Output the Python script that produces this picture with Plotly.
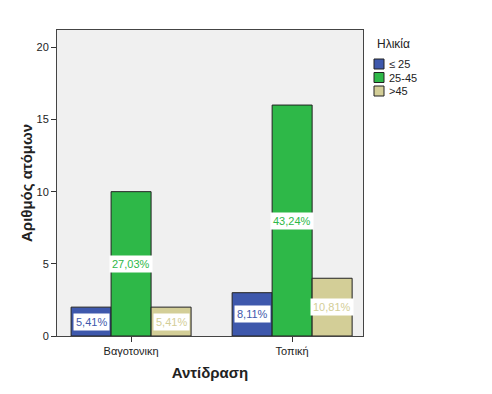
import plotly.graph_objects as go

categories = ["Βαγοτονικη", "Τοπική"]
series_names = ["≤ 25", "25-45", ">45"]
counts_le25 = [2, 3]
counts_25_45 = [10, 16]
counts_gt45 = [2, 4]
colors = ["#3E58AC", "#2EB848", "#D3CE97"]
y_ticks = [0, 5, 10, 15, 20]
legend_title = "Ηλικία"

series = [counts_le25, counts_25_45, counts_gt45]
total = sum(sum(s) for s in series)

FONT = "Liberation Sans, Arial, sans-serif"
W, H = 492, 394
L, R, T, B = 49, 137, 22, 66
PW, PH = W - L - R, H - T - B

def px_x(px):
    return (px - L) / PW

def px_y(py):
    return (H - B - py) / PH

bargap = 0.255
n = len(series)
w = (1 - bargap) / n
xs = list(range(len(categories)))

fig = go.Figure()
for name, vals, col in zip(series_names, series, colors):
    fig.add_trace(go.Bar(
        x=xs, y=vals, name=name, showlegend=False,
        marker=dict(color=col, line=dict(color="#222222", width=1)),
    ))

annotations = []
for k, (vals, col) in enumerate(zip(series, colors)):
    for i, v in enumerate(vals):
        pct = f"{v / total * 100:.2f}%".replace(".", ",")
        annotations.append(dict(
            x=i + (k - (n - 1) / 2) * w, y=v / 2, xref="x", yref="y",
            text=pct, showarrow=False, bgcolor="white", borderpad=2,
            font=dict(family=FONT, size=11, color=col),
        ))

# custom legend (compact, like the original)
shapes = []
annotations.append(dict(
    x=px_x(367), y=px_y(36), xref="paper", yref="paper", xanchor="left", yanchor="middle",
    text=legend_title, showarrow=False, font=dict(family=FONT, size=12, color="#222222"),
))
for k, (name, col) in enumerate(zip(series_names, colors)):
    cy = 56 + k * 13.5
    shapes.append(dict(
        type="rect", xref="paper", yref="paper",
        x0=px_x(366), x1=px_x(376), y0=px_y(cy + 5), y1=px_y(cy - 5),
        fillcolor=col, line=dict(color="#222222", width=1),
    ))
    annotations.append(dict(
        x=px_x(379), y=px_y(cy), xref="paper", yref="paper", xanchor="left", yanchor="middle",
        text=name, showarrow=False, font=dict(family=FONT, size=11, color="#222222"),
    ))

fig.update_layout(
    width=W, height=H,
    margin=dict(l=L, r=R, t=T, b=B),
    paper_bgcolor="white", plot_bgcolor="#F0F0F0",
    barmode="group", bargap=bargap, bargroupgap=0,
    font=dict(family=FONT, size=11, color="#222222"),
    showlegend=False,
    annotations=annotations, shapes=shapes,
)
fig.update_xaxes(
    range=[-0.46, 1.44], tickvals=xs, ticktext=categories,
    ticks="outside", ticklen=5, tickcolor="#333333",
    showline=True, linecolor="#444444", linewidth=1, mirror=True,
    showgrid=False, zeroline=False, automargin=False,
    title=dict(text="<b>Αντίδραση</b>", font=dict(size=15, family=FONT, color="#222222"), standoff=11),
)
fig.update_yaxes(
    range=[0, 21.2], tickvals=y_ticks,
    ticks="outside", ticklen=5, tickcolor="#333333",
    showline=True, linecolor="#444444", linewidth=1, mirror=True,
    showgrid=False, zeroline=False, automargin=False,
    title=dict(text="<b>Αριθμός ατόμων</b>", font=dict(size=15, family=FONT, color="#222222"), standoff=0),
)

fig.write_html("out.html")
